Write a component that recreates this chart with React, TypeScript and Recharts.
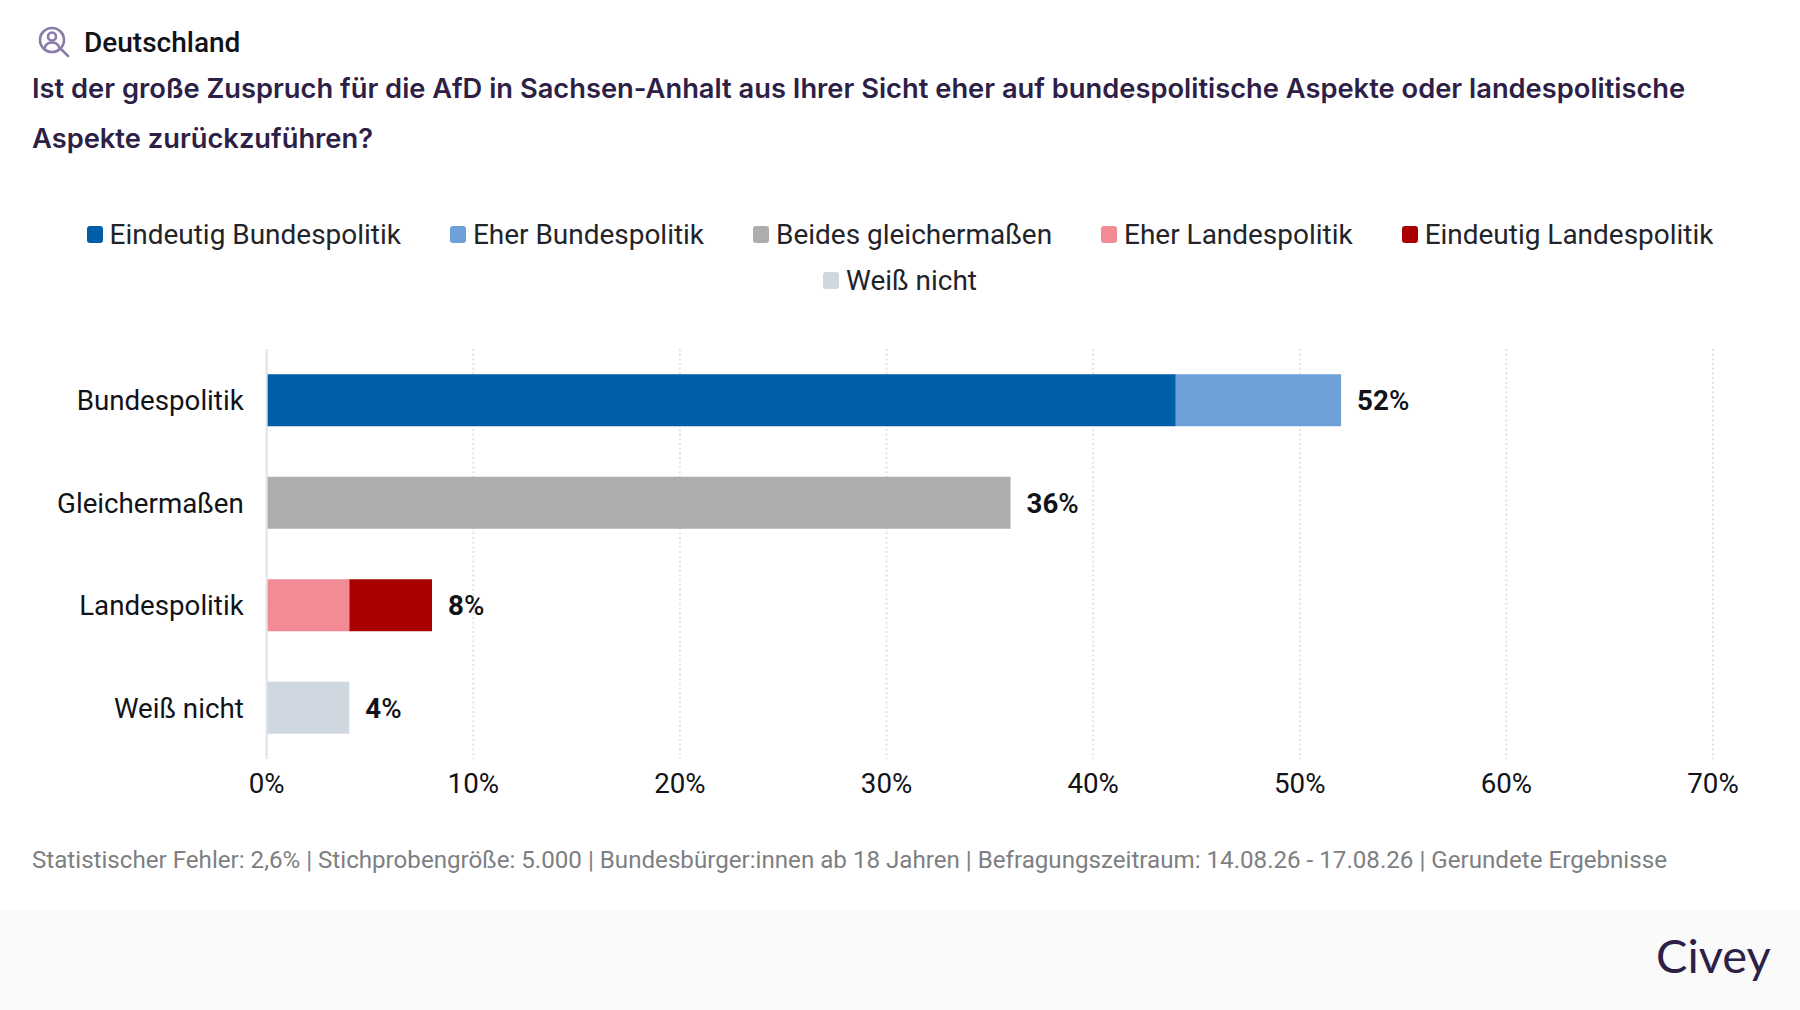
import React from "react";
import { BarChart, Bar, XAxis, YAxis, CartesianGrid, Legend, LabelList, Cell } from "recharts";

const categories = ["Bundespolitik", "Gleichermaßen", "Landespolitik", "Weiß nicht"];
const eindeutigBund = [44, null, null, null];
const eherBund = [8, null, null, null];
const beides = [null, 36, null, null];
const eherLand = [null, null, 4, null];
const eindeutigLand = [null, null, 4, null];
const weissNicht = [null, null, null, 4];
const totals = [52, 36, 8, 4];
const ticks = [0, 10, 20, 30, 40, 50, 60, 70];

const data = categories.map((name, i) => ({
  name,
  eindeutigBund: eindeutigBund[i],
  eherBund: eherBund[i],
  beides: beides[i],
  eherLand: eherLand[i],
  eindeutigLand: eindeutigLand[i],
  weissNicht: weissNicht[i],
}));

const ROBOTO = "Roboto, sans-serif";
const INK = "#111318";
const PURPLE = "#2e1f47";

function LegendBox({ payload }: any) {
  return (
    <div style={{ display: "flex", flexWrap: "wrap", justifyContent: "center", width: 1660, margin: "0 auto", rowGap: 11, columnGap: 49 }}>
      {(payload || []).map((p: any) => (
        <div key={p.value} style={{ display: "flex", alignItems: "center", height: 35, fontFamily: ROBOTO, fontSize: 27.96, color: "#22242a" }}>
          <span style={{ width: 16, height: 17, borderRadius: 3, background: p.color, marginRight: 7, display: "inline-block" }} />
          {p.value}
        </div>
      ))}
    </div>
  );
}

const totalLabel = (row: number) => ({ x, y, width, height, value }: any) => {
  if (value == null) return null;
  return (
    <text x={x + width + 16} y={y + height / 2} dominantBaseline="central" fontFamily={ROBOTO} fontSize={27.7} fill={INK}>
      <tspan fontWeight={700}>{totals[row]}</tspan>
      <tspan fontWeight={500}>%</tspan>
    </text>
  );
};

function SearchIcon() {
  return (
    <svg width="32" height="32" viewBox="0 0 32 32" style={{ position: "absolute", left: 38, top: 26 }} fill="none" stroke="#8a7ca8" strokeWidth="2.6">
      <circle cx="14" cy="14" r="12" />
      <circle cx="14" cy="10.5" r="4" />
      <path d="M6.5 22.5c1-4.5 4-6 7.5-6s6.5 1.5 7.5 6" />
      <path d="M23 23l7 7" strokeLinecap="round" />
    </svg>
  );
}

export default function App() {
  return (
    <div style={{ position: "absolute", left: 0, top: 0, width: 1800, height: 1010, background: "#fff", overflow: "hidden" }}>
      <SearchIcon />
      <div style={{ position: "absolute", left: 84, top: 23, fontFamily: ROBOTO, fontWeight: 500, fontSize: 28, lineHeight: "40px", color: INK }}>Deutschland</div>
      <div style={{ position: "absolute", left: 32, top: 64, width: 1740, fontFamily: "Inter, sans-serif", fontWeight: 600, fontSize: 27.3, lineHeight: "50px", color: PURPLE }}>
        Ist der große Zuspruch für die AfD in Sachsen-Anhalt aus Ihrer Sicht eher auf bundespolitische Aspekte oder landespolitische
        <br />Aspekte zurückzuführen?
      </div>
      <div style={{ position: "absolute", left: 0, top: 0 }}>
        <BarChart width={1800} height={1010} data={data} layout="vertical" barCategoryGap={25.3} margin={{ top: 349, right: 87, bottom: 211, left: 0 }}>
          <defs>
            <pattern id="dotsWeiss" width="8" height="8" patternUnits="userSpaceOnUse">
              <rect width="8" height="8" fill="#cfd8e0" />
              <rect x="1" y="1" width="1" height="1" fill="#c6cfd9" />
              <rect x="5" y="5" width="1" height="1" fill="#c6cfd9" />
            </pattern>
          </defs>
          <CartesianGrid horizontal={false} vertical strokeDasharray="2 2.7" stroke="#e2e2e2" strokeWidth={2} />
          <XAxis type="number" domain={[0, 70]} ticks={ticks} tickFormatter={(v: number) => `${v}%`} height={40} axisLine={false} tickLine={false} tickMargin={8}
            tick={{ fontFamily: ROBOTO, fontSize: 27.7, fill: INK }} interval={0} />
          <YAxis type="category" dataKey="name" width={266.7} axisLine={{ stroke: "#e4e4e4", strokeWidth: 2 }} tickLine={false} tickMargin={17}
            tick={{ fontFamily: ROBOTO, fontSize: 27.7, fill: INK }} interval={0} />
          <Legend verticalAlign="middle" itemSorter={null} content={<LegendBox />} wrapperStyle={{ position: "absolute", top: 217, left: 0, width: 1800 }} />
          <Bar dataKey="eindeutigBund" name="Eindeutig Bundespolitik" stackId="a" fill="#005ea8" isAnimationActive={false} />
          <Bar dataKey="eherBund" name="Eher Bundespolitik" stackId="a" fill="#6fa1d9" isAnimationActive={false}>
            <LabelList dataKey="eherBund" content={totalLabel(0)} />
          </Bar>
          <Bar dataKey="beides" name="Beides gleichermaßen" stackId="a" fill="#adadaf" isAnimationActive={false}>
            <LabelList dataKey="beides" content={totalLabel(1)} />
          </Bar>
          <Bar dataKey="eherLand" name="Eher Landespolitik" stackId="a" fill="#f28b96" isAnimationActive={false} />
          <Bar dataKey="eindeutigLand" name="Eindeutig Landespolitik" stackId="a" fill="#a80000" isAnimationActive={false}>
            <LabelList dataKey="eindeutigLand" content={totalLabel(2)} />
          </Bar>
          <Bar dataKey="weissNicht" name="Weiß nicht" stackId="a" fill="#cfd8e0" isAnimationActive={false}>
            {categories.map((c) => <Cell key={c} fill="url(#dotsWeiss)" />)}
            <LabelList dataKey="weissNicht" content={totalLabel(3)} />
          </Bar>
        </BarChart>
      </div>
      <div style={{ position: "absolute", left: 32, top: 845, fontFamily: ROBOTO, fontSize: 24.15, lineHeight: "30px", color: "#7d7f82", whiteSpace: "nowrap" }}>
        Statistischer Fehler: 2,6% | Stichprobengröße: 5.000 | Bundesbürger:innen ab 18 Jahren | Befragungszeitraum: 14.08.26 - 17.08.26 | Gerundete Ergebnisse
      </div>
      <div style={{ position: "absolute", left: 0, top: 910, width: 1800, height: 100, background: "#fafafa" }} />
      <div style={{ position: "absolute", left: 1656, top: 927, fontFamily: "Lato, sans-serif", fontWeight: 400, fontSize: 47, lineHeight: "56px", color: PURPLE }}>Civey</div>
    </div>
  );
}
